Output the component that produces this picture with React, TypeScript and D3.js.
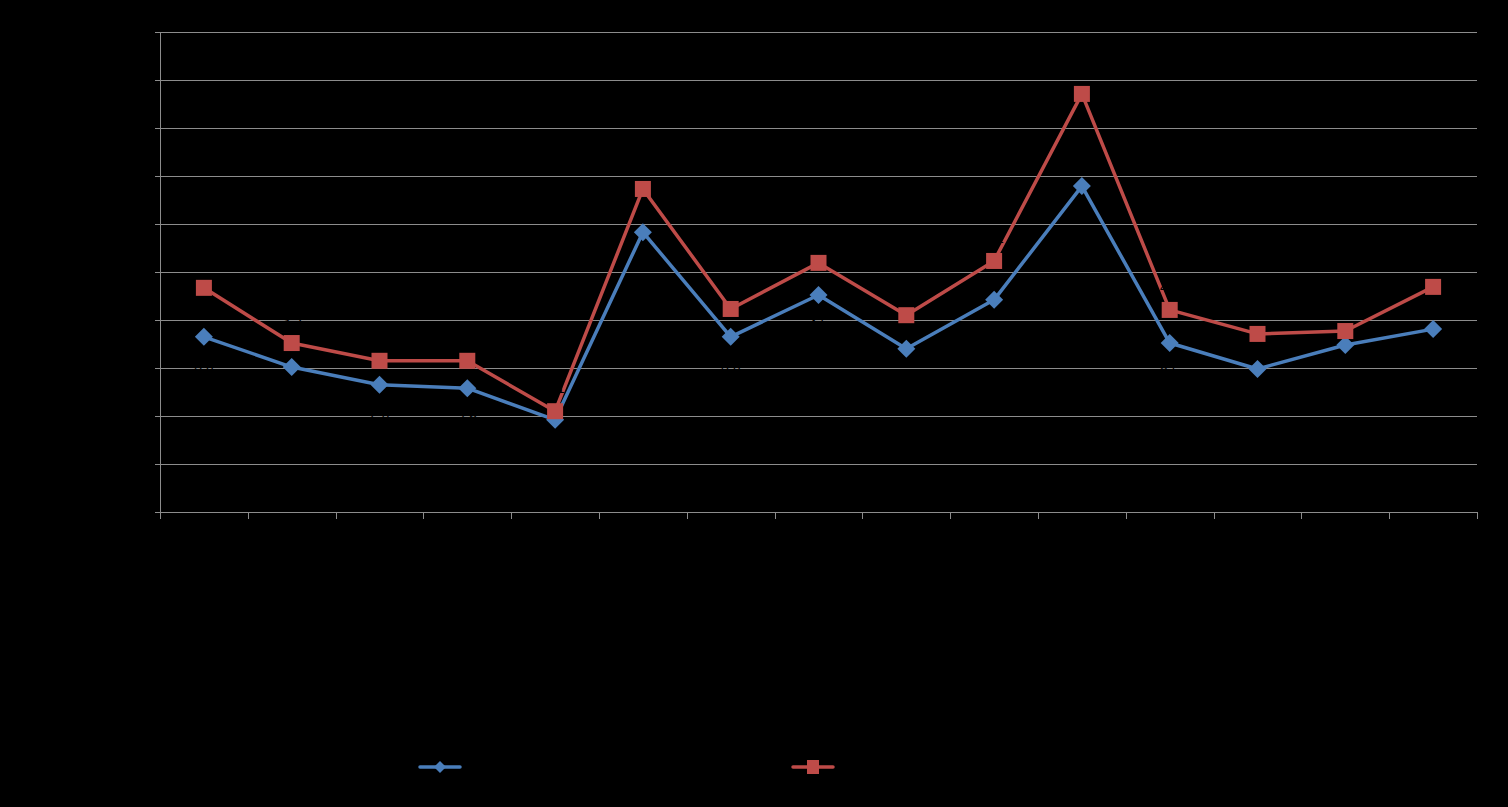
import React from "react";
import * as d3 from "d3";

const categories = ["1", "2", "3", "4", "5", "6", "7", "8", "9", "10", "11", "12", "13", "14", "15"];
const seriesA = [3.65, 3.02, 2.65, 2.58, 1.92, 5.83, 3.65, 4.52, 3.4, 4.42, 6.79, 3.52, 2.98, 3.48, 3.81];
const seriesB = [4.67, 3.52, 3.15, 3.15, 2.1, 6.73, 4.23, 5.19, 4.1, 5.23, 8.71, 4.21, 3.71, 3.77, 4.69];
const yTicks = [0, 1, 2, 3, 4, 5, 6, 7, 8, 9, 10];
const seriesNames = ["Series 1", "Series 2"];

const W = 1508, H = 807;
const left = 160, right = 1477, top = 32, bottom = 512;
const blue = "#4a7ebb", red = "#be4b48", grid = "#8c8c8c";

export default function App() {
  const x = d3.scaleBand<string>().domain(categories).range([left, right]);
  const y = d3.scaleLinear().domain([0, 10]).range([bottom, top]);
  const cx = (c: string) => (x(c) as number) + x.bandwidth() / 2;
  const line = d3.line<number>().x((_, i) => cx(categories[i])).y((d) => y(d));
  const diamond = (px: number, py: number, r: number) =>
    `M${px},${py - r}L${px + r},${py}L${px},${py + r}L${px - r},${py}Z`;
  const xTickPos = [...categories.map((c) => x(c) as number), right];
  return (
    <svg width={W} height={H} style={{ position: "absolute", left: 0, top: 0, background: "#000" }}
      fontFamily="'Liberation Sans', Arial, sans-serif">
      <rect x={0} y={0} width={W} height={H} fill="#000" />
      {yTicks.map((t) => (
        <g key={t}>
          <line x1={left - 5} x2={right} y1={y(t) + 0.5} y2={y(t) + 0.5} stroke={grid} strokeWidth={1} />
          <text x={left - 10} y={y(t) + 5} textAnchor="end" fontSize={14} fill="#000">{t}</text>
        </g>
      ))}
      <line x1={left + 0.5} x2={left + 0.5} y1={top} y2={bottom + 7} stroke={grid} strokeWidth={1} />
      {xTickPos.map((p, i) => (
        <line key={i} x1={Math.round(p) + 0.5} x2={Math.round(p) + 0.5} y1={bottom} y2={bottom + 7} stroke={grid} strokeWidth={1} />
      ))}
      {categories.map((c) => (
        <text key={c} x={cx(c)} y={bottom + 24} textAnchor="middle" fontSize={14} fill="#000">{c}</text>
      ))}
      <path d={line(seriesA) as string} fill="none" stroke={blue} strokeWidth={3.5} strokeLinejoin="round" />
      <path d={line(seriesB) as string} fill="none" stroke={red} strokeWidth={3.5} strokeLinejoin="round" />
      {seriesA.map((v, i) => (
        <g key={"a" + i}>
          <path d={diamond(cx(categories[i]), y(v), 9)} fill={blue} />
          <text x={cx(categories[i])} y={y(v) + 34} textAnchor="middle" fontSize={14} fill="#000">{v.toFixed(1)}</text>
        </g>
      ))}
      {seriesB.map((v, i) => (
        <g key={"b" + i}>
          <rect x={cx(categories[i]) - 8} y={y(v) - 8} width={16} height={16} fill={red} />
          <text x={cx(categories[i])} y={y(v) - 18} textAnchor="middle" fontSize={14} fill="#000">{v.toFixed(1)}</text>
        </g>
      ))}
      <g>
        <line x1={420} x2={460} y1={767} y2={767} stroke={blue} strokeWidth={3.5} strokeLinecap="round" />
        <path d={diamond(440, 767, 6)} fill={blue} />
        <text x={468} y={772} fontSize={14} fill="#000">{seriesNames[0]}</text>
        <line x1={793} x2={833} y1={767} y2={767} stroke={red} strokeWidth={3.5} strokeLinecap="round" />
        <rect x={807} y={760} width={12} height={14} fill={red} />
        <text x={841} y={772} fontSize={14} fill="#000">{seriesNames[1]}</text>
      </g>
    </svg>
  );
}
